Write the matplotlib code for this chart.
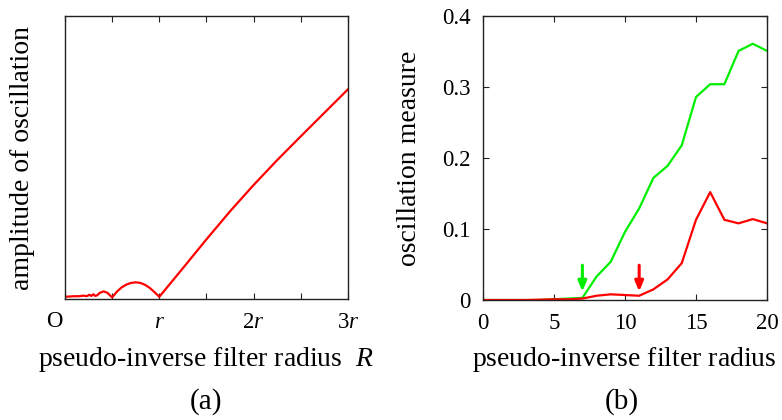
"""Oscillation amplitude vs pseudo-inverse filter radius: (a) sketch, (b) measured."""

import matplotlib.pyplot as plt
from matplotlib.transforms import ScaledTranslation

plt.rcParams["font.family"] = ["Liberation Serif", "DejaVu Serif"]
plt.rcParams["mathtext.fontset"] = "custom"
plt.rcParams["mathtext.rm"] = "Liberation Serif"
plt.rcParams["mathtext.it"] = "Liberation Serif:italic"

# (a) amplitude of oscillation (arbitrary units) vs radius in units of r
radius_a = [0, 0.05, 0.1, 0.15, 0.2, 0.23, 0.26, 0.28, 0.30, 0.32, 0.34, 0.37,
            0.41, 0.45, 0.48, 0.5, 0.55, 0.6, 0.65, 0.7, 0.75, 0.8, 0.85, 0.9,
            0.95, 1.0, 1.25, 1.5, 1.75, 2.0, 2.25, 2.5, 2.75, 3.0]
amplitude_a = [0.008, 0.009, 0.010, 0.010, 0.012, 0.010, 0.015, 0.011, 0.017,
               0.011, 0.013, 0.022, 0.027, 0.022, 0.012, 0.006, 0.026, 0.041,
               0.051, 0.057, 0.059, 0.057, 0.050, 0.039, 0.024, 0.008, 0.109,
               0.211, 0.310, 0.403, 0.491, 0.575, 0.658, 0.741]
ticks_a = [0, 0.5, 1, 1.5, 2, 2.5, 3]
ticklabels_a = ["", "", "$r$", "", "$2r$", "", "$3r$"]

# (b) oscillation measure vs filter radius
radius_b = list(range(21))
green_b = [0, 0, 0, 0, 0, 0.001, 0.002, 0.003, 0.033, 0.054, 0.096, 0.129,
           0.172, 0.189, 0.218, 0.286, 0.304, 0.304, 0.351, 0.361, 0.351]
red_b = [0, 0, 0, 0, 0.0005, 0.001, 0.001, 0.002, 0.006, 0.008, 0.007, 0.006,
         0.015, 0.029, 0.052, 0.113, 0.152, 0.113, 0.108, 0.114, 0.108]
arrow_x = [7, 11]
arrow_colors = ["#00ee00", "#ff0000"]
arrow_top = 0.049
arrow_tip = 0.012
xticks_b = [0, 5, 10, 15, 20]
yticks_b = [0, 0.1, 0.2, 0.3, 0.4]
yticklabels_b = ["0", "0.1", "0.2", "0.3", "0.4"]

LABEL_FS = 20
TICK_FS = 16.5

fig = plt.figure(figsize=(7.82, 4.20), dpi=100)
ax_a = fig.add_axes([0.0831, 0.288, 0.3619, 0.674])
ax_b = fig.add_axes([0.6176, 0.2857, 0.3632, 0.676])

for ax in (ax_a, ax_b):
    for s in ax.spines.values():
        s.set_linewidth(1.0)
        s.set_color("#222222")
    ax.tick_params(direction="in", length=4, width=0.8, color="#222222",
                   top=True, right=True, labelsize=TICK_FS, pad=9)

# panel (a)
ax_a.plot(radius_a, amplitude_a, color="#ff0000", lw=1.6)
ax_a.set_xlim(0, 3)
ax_a.set_ylim(0, 1)
ax_a.set_xticks(ticks_a)
ax_a.set_xticklabels(ticklabels_a)
ax_a.set_yticks([])
ax_a.text(0, -0.02, "O", fontsize=TICK_FS, ha="center", va="top",
          transform=ax_a.get_xaxis_transform()
          + ScaledTranslation(-11 / 100, -6 / 100, fig.dpi_scale_trans))

# panel (b)
ax_b.plot(radius_b, green_b, color="#00ee00", lw=1.6)
ax_b.plot(radius_b, red_b, color="#ff0000", lw=1.6)
for x, c in zip(arrow_x, arrow_colors):
    ax_b.annotate("", xy=(x, arrow_tip), xytext=(x, arrow_top),
                  arrowprops=dict(arrowstyle="-|>,head_width=0.25,head_length=0.6",
                                  color=c, lw=2.2, shrinkA=0, shrinkB=0))
ax_b.set_xlim(0, 20)
ax_b.set_ylim(0, 0.4)
ax_b.set_xticks(xticks_b)
ax_b.set_yticks(yticks_b)
ax_b.set_yticklabels(yticklabels_b)

# axis labels and captions
fig.text(0.0294, 0.624, "amplitude of oscillation", fontsize=LABEL_FS,
         rotation=90, ha="center", va="center")
fig.text(0.524, 0.624, "oscillation measure", fontsize=LABEL_FS,
         rotation=90, ha="center", va="center")
fig.text(0.264, 0.145, "pseudo-inverse filter radius  $R$", fontsize=LABEL_FS,
         ha="center", va="center")
# in the original the second label runs past the right edge of the figure
fig.text(0.6036, 0.145, "pseudo-inverse filter radius  $R$", fontsize=LABEL_FS,
         ha="left", va="center")
fig.text(0.264, 0.045, "(a)", fontsize=21, ha="center", va="center")
fig.text(0.795, 0.045, "(b)", fontsize=21, ha="center", va="center")

fig.savefig("out.png", dpi=100)
plt.close(fig)
